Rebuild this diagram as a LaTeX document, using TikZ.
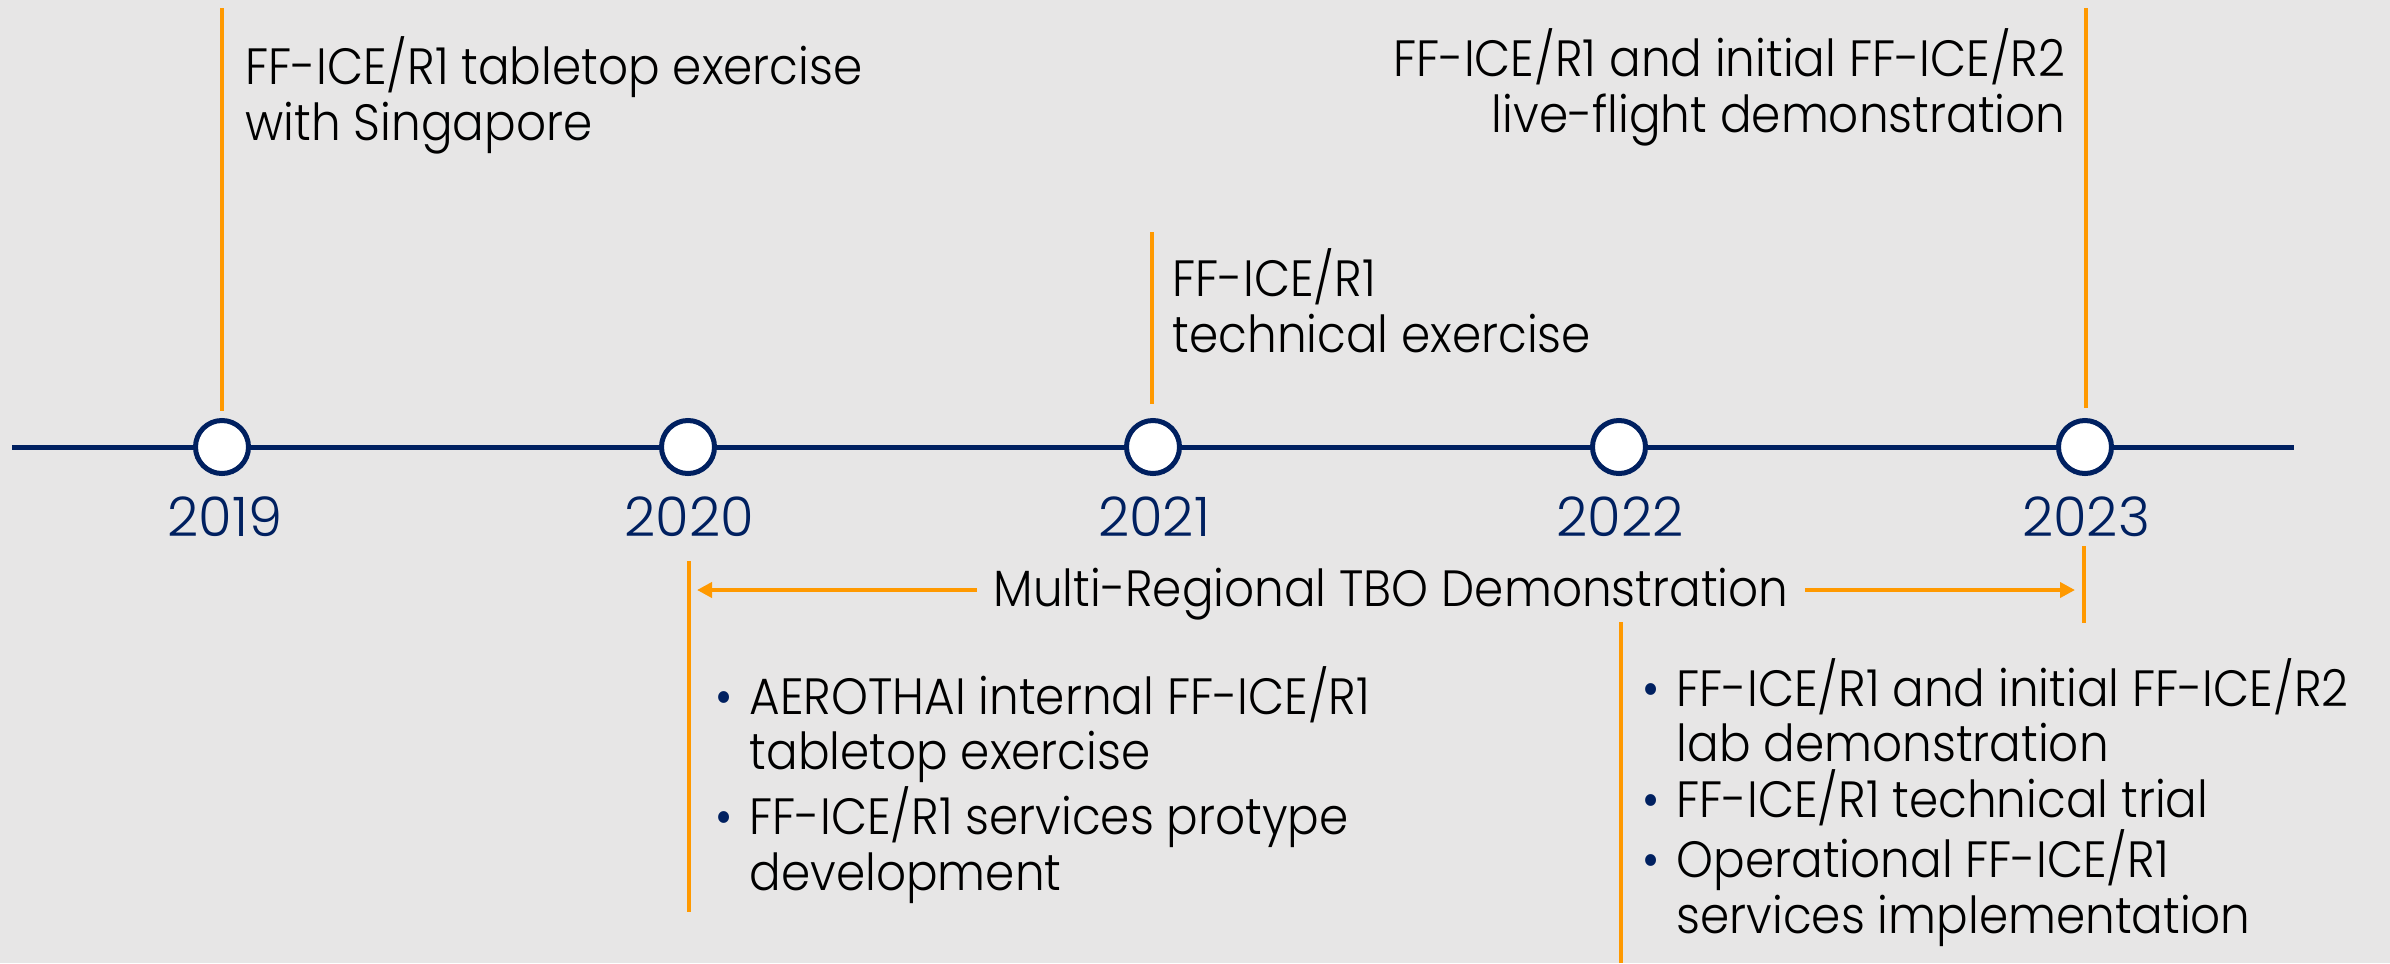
\documentclass[tikz,border=0pt]{standalone}
\usepackage{fontspec}
\setmainfont{Poppins}[UprightFont=* Light, FakeStretch=0.92]
\newfontfamily\yearfont{Poppins}[UprightFont=* Light]
\usetikzlibrary{positioning,arrows.meta}
\definecolor{tlnavy}{HTML}{002060}
\definecolor{tlorange}{HTML}{FF9900}
\definecolor{tlback}{HTML}{E7E6E6}
\tikzset{
  milestone/.style={circle,draw=tlnavy,line width=0.05cm,fill=white,minimum size=0.53cm,inner sep=0pt},
  yearlabel/.style={text=tlnavy,font=\yearfont\fontsize{15.5}{17}\selectfont,inner sep=0pt},
  event/.style={font=\fontsize{14.5}{15.8}\selectfont,inner sep=0pt,align=left},
  tick/.style={draw=tlorange,line width=0.04cm},
  flow/.style={tick,-{Triangle[length=0.15cm,width=0.15cm]}},
}
\newcommand{\bul}{\makebox[0.34cm][l]{\textcolor{tlnavy}{\textbullet}}}
\newcommand{\ind}{\hspace*{0.34cm}}
\begin{document}
\begin{tikzpicture}[x=0.01cm,y=-0.01cm]
  \fill[tlback] (0,0) rectangle (2390,963);
  \useasboundingbox (0,0) rectangle (2390,963);
  % timeline
  \coordinate (tlstart) at (12,447);
  \coordinate (tlend) at (2294,447);
  \draw[tlnavy,line width=0.05cm] (tlstart) -- (tlend);
  \node[milestone] (c2019) at (222,447) {};
  \node[milestone] (c2020) at (688,447) {};
  \node[milestone] (c2021) at (1153,447) {};
  \node[milestone] (c2022) at (1619,447) {};
  \node[milestone] (c2023) at (2085,447) {};
  \node[yearlabel, below=0.2cm of c2019, xshift=0.03cm] (y2019) {2019};
  \node[yearlabel, below=0.2cm of c2020, xshift=0.01cm] (y2020) {2020};
  \node[yearlabel, below=0.2cm of c2021, xshift=0.01cm] (y2021) {2021};
  \node[yearlabel, below=0.2cm of c2022, xshift=0.01cm] (y2022) {2022};
  \node[yearlabel, below=0.2cm of c2023, xshift=0.01cm] (y2023) {2023};

  % ticks
  \coordinate (u2019a) at (222,8);    \coordinate (u2019b) at (222,411);
  \coordinate (d2020a) at (689,561);  \coordinate (d2020b) at (689,912);
  \coordinate (u2021a) at (1152,232); \coordinate (u2021b) at (1152,404);
  \coordinate (d2022a) at (1621,622); \coordinate (d2022b) at (1621,963);
  \coordinate (u2023a) at (2086,8);   \coordinate (u2023b) at (2086,408);
  \coordinate (d2023a) at (2084,546); \coordinate (d2023b) at (2084,623);
  \draw[tick] (u2019a) -- (u2019b);
  \draw[tick] (d2020a) -- (d2020b);
  \draw[tick] (u2021a) -- (u2021b);
  \draw[tick] (d2022a) -- (d2022b);
  \draw[tick] (u2023a) -- (u2023b);
  \draw[tick] (d2023a) -- (d2023b);

  % events (base = last line)
  \node[event, anchor=base west] (e2019) at (245,140)
    {FF-ICE/R1 tabletop exercise\\with Singapore};
  \node[event, anchor=base west] (e2021) at (1172,352)
    {FF-ICE/R1\\technical exercise};
  \node[event, anchor=base east, align=right] (e2023) at (2066,132)
    {FF-ICE/R1 and initial FF-ICE/R2\\live-flight demonstration};
  \node[event, anchor=base west] (e2020) at (715,890)
    {\bul AEROTHAI internal FF-ICE/R1\\\ind tabletop exercise\\
     \bul FF-ICE/R1 services protype\\\ind development};
  \node[event, anchor=base west] (e2022) at (1642,933)
    {\bul FF-ICE/R1 and initial FF-ICE/R2\\\ind lab demonstration\\
     \bul FF-ICE/R1 technical trial\\
     \bul Operational FF-ICE/R1\\\ind services implementation};

  % demonstration span
  \node[event, anchor=base, inner xsep=0.16cm] (mrtbo) at (1391,606)
    {Multi-Regional TBO Demonstration};
  \coordinate (ml) at (697,590);
  \coordinate (mr) at (2075,590);
  \draw[flow] (mrtbo.west |- ml) -- (ml);
  \draw[flow] (mrtbo.east |- mr) -- (mr);
\end{tikzpicture}
\end{document}
